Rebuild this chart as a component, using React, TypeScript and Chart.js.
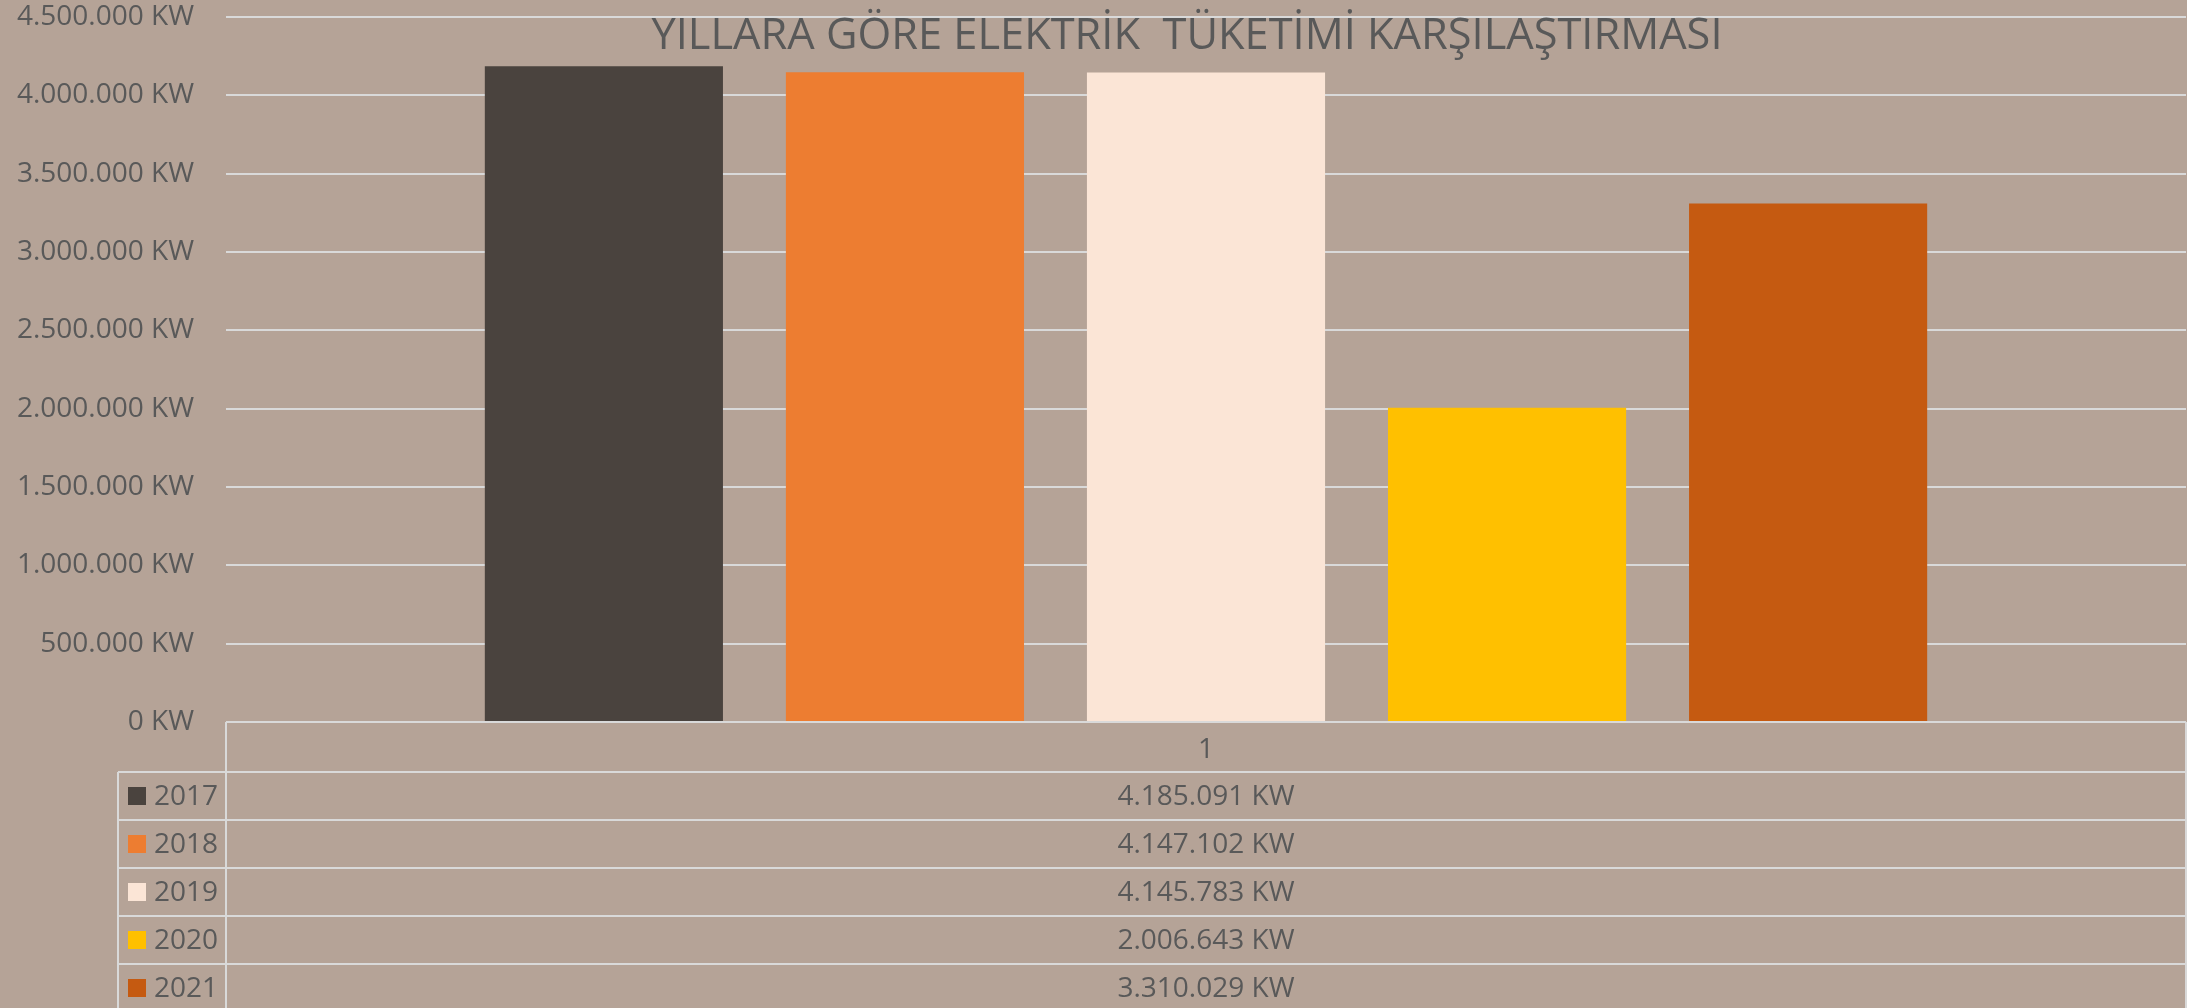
import { useEffect, useRef } from "react";
import { Chart, registerables } from "chart.js";

Chart.register(...registerables);

const TITLE = "YILLARA GÖRE ELEKTRİK  TÜKETİMİ KARŞILAŞTIRMASI";
const categories = ["1"];
const seriesNames = ["2017", "2018", "2019", "2020", "2021"];
const seriesValues = [4185091, 4147102, 4145783, 2006643, 3310029];
const seriesColors = ["#4A433E", "#ED7D31", "#FBE5D6", "#FFC000", "#C55A11"];
const yMin = 0;
const yMax = 4500000;
const yStep = 500000;
const unit = "KW";

const FONT = '"Open Sans", "Liberation Sans", sans-serif';
const TEXT = "#595959";
const GRID = "#D9D9D9";
const BG = "#B5A397";

function fmt(v: number): string {
  const s = Math.round(v)
    .toString()
    .replace(/\B(?=(\d{3})+(?!\d))/g, ".");
  return s + " " + unit;
}

const bgPlugin = {
  id: "bgFill",
  beforeDraw(chart: any) {
    const { ctx, width, height } = chart;
    ctx.save();
    ctx.fillStyle = BG;
    ctx.fillRect(0, 0, width, height);
    ctx.restore();
  },
};

const titlePlugin = {
  id: "excelTitle",
  afterDraw(chart: any) {
    const ctx = chart.ctx;
    ctx.save();
    ctx.font = `43px ${FONT}`;
    ctx.fillStyle = TEXT;
    ctx.textAlign = "center";
    ctx.textBaseline = "alphabetic";
    const w = ctx.measureText(TITLE).width;
    const sx = 1071 / w;
    ctx.translate(1187, 49);
    ctx.scale(sx, 1);
    ctx.fillText(TITLE, 0, 0);
    ctx.restore();
  },
};

const tablePlugin = {
  id: "dataTable",
  afterDraw(chart: any) {
    const { ctx, chartArea } = chart;
    const xScale = chart.scales.x;
    const left = 118;
    const mid = chartArea.left;
    const right = chartArea.right;
    const top = chartArea.bottom;
    const headerH = 50;
    const rowH = 48;
    const n = seriesNames.length;
    const bottom = top + headerH + n * rowH;
    ctx.save();
    ctx.strokeStyle = GRID;
    ctx.lineWidth = 2;
    const line = (x1: number, y1: number, x2: number, y2: number) => {
      ctx.beginPath();
      ctx.moveTo(x1, y1);
      ctx.lineTo(x2, y2);
      ctx.stroke();
    };
    line(mid, top, right, top);
    for (let i = 0; i <= n; i++) {
      const y = top + headerH + i * rowH;
      line(left, y, right, y);
    }
    line(mid, top, mid, bottom);
    line(right, top, right, bottom);
    line(left, top + headerH, left, bottom);

    ctx.font = `28px ${FONT}`;
    ctx.textBaseline = "middle";
    const cx = xScale.getPixelForTick(0);
    for (let i = 0; i < n; i++) {
      const cy = top + headerH + i * rowH + rowH / 2;
      ctx.fillStyle = seriesColors[i];
      ctx.fillRect(left + 10, cy - 9, 18, 18);
      ctx.fillStyle = TEXT;
      ctx.textAlign = "left";
      ctx.fillText(seriesNames[i], left + 36, cy + 1);
      ctx.textAlign = "center";
      ctx.fillText(fmt(seriesValues[i]), cx, cy + 1);
    }
    ctx.restore();
  },
};

export default function App() {
  const ref = useRef<HTMLCanvasElement | null>(null);

  useEffect(() => {
    if (!ref.current) return;
    const chart = new Chart(ref.current, {
      type: "bar",
      data: {
        labels: categories,
        datasets: seriesNames.map((name, i) => ({
          label: name,
          data: [seriesValues[i]],
          backgroundColor: seriesColors[i],
          borderWidth: 0,
          categoryPercentage: 0.768,
          barPercentage: 0.791,
        })),
      },
      options: {
        responsive: false,
        animation: false,
        devicePixelRatio: 1,
        layout: { padding: { top: 17, right: 1, bottom: 0, left: 0 } },
        plugins: {
          legend: { display: false },
          title: { display: false },
          tooltip: { enabled: false },
        },
        scales: {
          x: {
            grid: { display: false, drawTicks: false },
            border: { display: false },
            ticks: {
              color: TEXT,
              font: { family: FONT, size: 28 },
              padding: 11,
            },
            afterFit: (scale: any) => {
              scale.height = 286;
            },
          },
          y: {
            min: yMin,
            max: yMax,
            grid: { color: GRID, lineWidth: 2, drawTicks: false },
            border: { display: false },
            ticks: {
              stepSize: yStep,
              color: TEXT,
              font: { family: FONT, size: 28 },
              padding: 32,
              callback: (v: any) => fmt(Number(v)),
            },
            afterFit: (scale: any) => {
              scale.width = 226;
              scale.paddingTop = 0;
              scale.paddingBottom = 0;
            },
          },
        },
      },
      plugins: [bgPlugin, tablePlugin, titlePlugin],
    } as any);
    return () => chart.destroy();
  }, []);

  return (
    <div
      style={{
        position: "fixed",
        left: 0,
        top: 0,
        width: 2187,
        height: 1008,
        background: BG,
        overflow: "hidden",
      }}
    >
      <canvas ref={ref} width={2187} height={1008} style={{ display: "block" }} />
    </div>
  );
}
